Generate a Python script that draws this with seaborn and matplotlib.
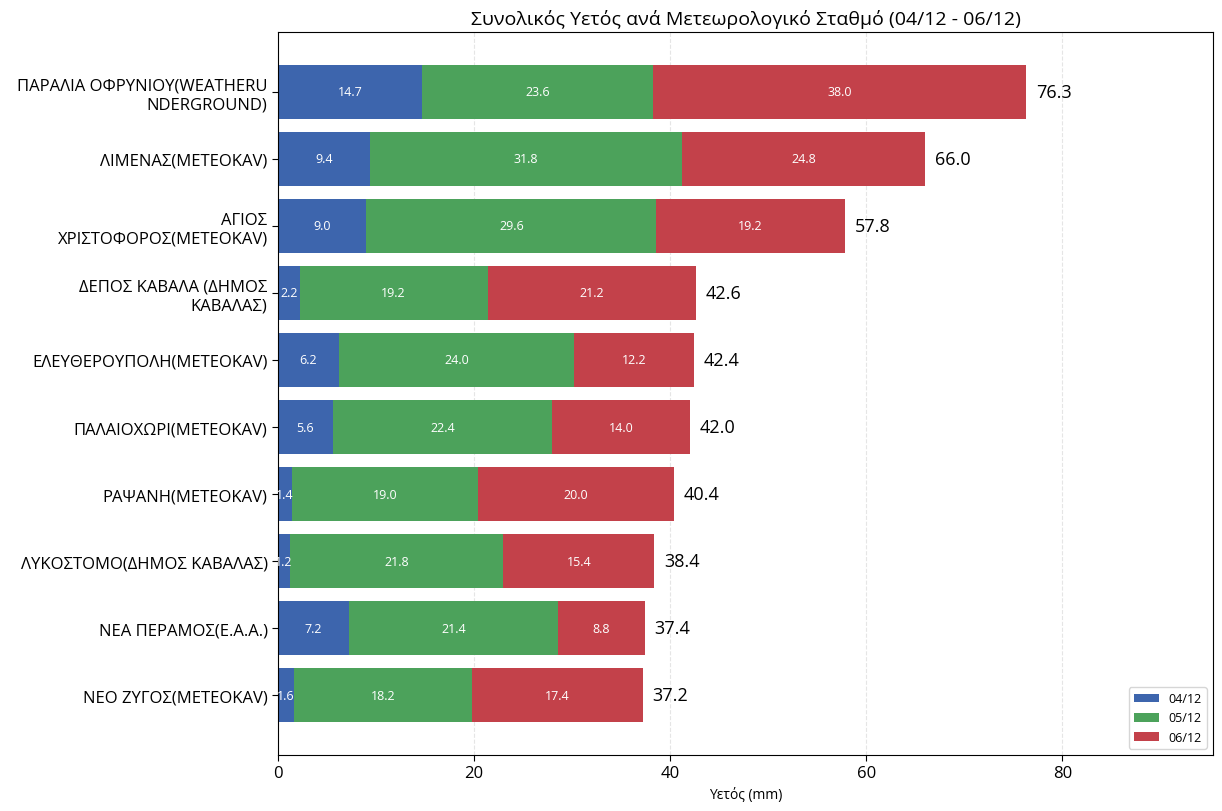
import pandas as pd
import matplotlib.pyplot as plt
import seaborn as sns

# Station names and daily rainfall (mm)
stations = ['ΠΑΡΑΛΙΑ ΟΦΡΥΝΙΟΥ(WEATHERU\nNDERGROUND)', 'ΛΙΜΕΝΑΣ(METEOKAV)',
            'ΑΓΙΟΣ\nΧΡΙΣΤΟΦΟΡΟΣ(METEOKAV)', 'ΔΕΠΟΣ ΚΑΒΑΛΑ (ΔΗΜΟΣ\nΚΑΒΑΛΑΣ)',
            'ΕΛΕΥΘΕΡΟΥΠΟΛΗ(METEOKAV)', 'ΠΑΛΑΙΟΧΩΡΙ(METEOKAV)', 'ΡΑΨΑΝΗ(METEOKAV)',
            'ΛΥΚΟΣΤΟΜΟ(ΔΗΜΟΣ ΚΑΒΑΛΑΣ)', 'ΝΕΑ ΠΕΡΑΜΟΣ(Ε.Α.Α.)', 'ΝΕΟ ΖΥΓΟΣ(METEOKAV)']
day1 = [14.7, 9.4, 9.0, 2.2, 6.2, 5.6, 1.4, 1.2, 7.2, 1.6]
day2 = [23.6, 31.8, 29.6, 19.2, 24.0, 22.4, 19.0, 21.8, 21.4, 18.2]
day3 = [38.0, 24.8, 19.2, 21.2, 12.2, 14.0, 20.0, 15.4, 8.8, 17.4]
days = ['04/12', '05/12', '06/12']
colors = ['#3D65AD', '#4CA25B', '#C3414A']

df = pd.DataFrame({'station': stations, days[0]: day1, days[1]: day2, days[2]: day3})
df['c1'] = df[days[0]]
df['c2'] = df['c1'] + df[days[1]]
df['total'] = df['c2'] + df[days[2]]

sns.set_style('white')
plt.rcParams['font.family'] = ['Open Sans', 'DejaVu Sans']
for k in ['text.color', 'axes.labelcolor', 'xtick.color', 'ytick.color']:
    plt.rcParams[k] = 'black'

fig, ax = plt.subplots(figsize=(12.22, 8.12), dpi=100)

# stacked bars drawn as overlapping cumulative sums
for col, c, lab in [('total', colors[2], days[2]), ('c2', colors[1], days[1]),
                    ('c1', colors[0], days[0])]:
    sns.barplot(data=df, y='station', x=col, color=c, orient='h', width=0.8,
                saturation=1, linewidth=0, ax=ax, label=lab)

# value labels inside segments and totals at bar ends
for i, row in df.iterrows():
    starts = [0, row['c1'], row['c2']]
    for d, s in zip(days, starts):
        ax.text(s + row[d] / 2, i, f'{row[d]:.1f}', ha='center', va='center',
                color='white', fontsize=9)
    ax.text(row['total'] + 1, i, f'{row["total"]:.1f}', ha='left', va='center',
            fontsize=13)

ax.set_xlim(0, df['total'].max() * 1.25)
ax.set_ylim(len(df) - 1 + 0.89, -0.89)
ax.set_title('Συνολικός Υετός ανά Μετεωρολογικό Σταθμό (04/12 - 06/12)', fontsize=14)
ax.set_xlabel('Υετός (mm)', fontsize=10)
ax.set_ylabel('')
ax.tick_params(axis='y', labelsize=12, left=True, length=4)
ax.tick_params(axis='x', labelsize=12, bottom=True, length=4)
ax.grid(axis='x', linestyle='--', alpha=0.5)
ax.set_axisbelow(True)
for sp in ax.spines.values():
    sp.set_color('black')

handles, labels = ax.get_legend_handles_labels()
order = [labels.index(d) for d in days]
ax.legend([handles[k] for k in order], days, loc='lower right', fontsize=9)

fig.subplots_adjust(left=278 / 1222, right=1213 / 1222, top=1 - 33 / 812,
                    bottom=1 - 756 / 812)
plt.savefig('out.png', dpi=100)
